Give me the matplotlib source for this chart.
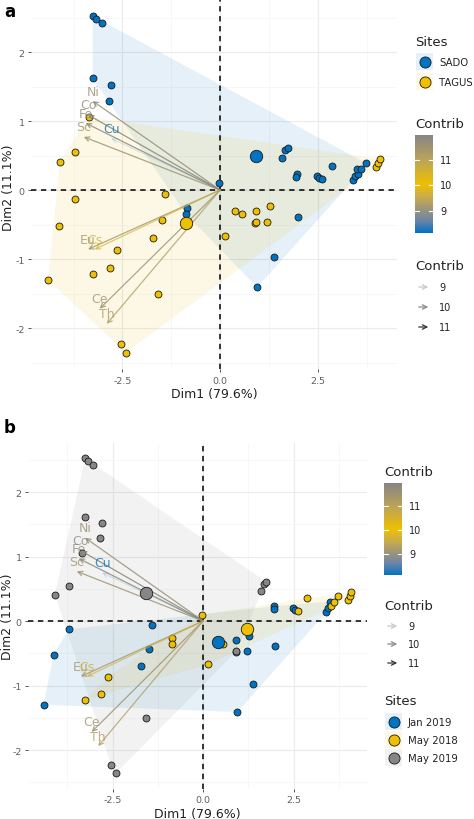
import matplotlib
matplotlib.use("Agg")
import matplotlib.pyplot as plt
import numpy as np
from matplotlib.colors import LinearSegmentedColormap, Normalize
from matplotlib.patches import Polygon, Rectangle, FancyArrowPatch
from matplotlib.lines import Line2D

W, H = 474, 820

# individuals (PCA scores)
dim1 = [-3.26, -3.18, -3.03, -3.26, -2.79, -2.85, -0.03, 1.67, 1.74, 1.59,
        1.97, 1.95, 2.49, 2.54, 2.62, 2.87, 3.41, 3.46, 3.54, 3.51,
        3.62, 3.74, -0.85, -0.87, 2.00, 1.38, 0.95,
        -3.36, -3.72, -4.10, -1.41, -3.72, -4.13, -1.49, -1.72, -2.64, -2.82,
        -3.26, -4.41, -1.59, -2.54, -2.41, 0.38, 0.56, 0.92, 1.28, 0.90,
        0.92, 1.21, 0.13, 4.00, 4.05, 4.10]
dim2 = [2.52, 2.48, 2.42, 1.62, 1.52, 1.29, 0.10, 0.58, 0.61, 0.46,
        0.23, 0.19, 0.20, 0.17, 0.16, 0.35, 0.14, 0.20, 0.23, 0.30,
        0.30, 0.39, -0.26, -0.35, -0.39, -0.97, -1.41,
        1.06, 0.55, 0.41, -0.06, -0.13, -0.52, -0.43, -0.70, -0.87, -1.13,
        -1.22, -1.30, -1.51, -2.23, -2.36, -0.30, -0.35, -0.30, -0.23, -0.48,
        -0.46, -0.46, -0.67, 0.33, 0.39, 0.45]
site = ["SADO"] * 27 + ["TAGUS"] * 26
campaign = ["May 2019"] * 6 + ["May 2018"] + ["May 2019"] * 3 + \
    ["Jan 2019"] * 4 + ["May 2018"] * 2 + ["Jan 2019"] * 2 + ["May 2018"] + \
    ["Jan 2019"] + ["May 2018"] * 4 + ["Jan 2019"] * 3 + \
    ["May 2019"] * 3 + ["Jan 2019"] * 5 + ["May 2018"] * 3 + ["Jan 2019"] + \
    ["May 2019"] * 3 + ["Jan 2019", "May 2018", "Jan 2019", "Jan 2019",
                        "May 2019", "May 2019", "Jan 2019", "May 2018"] + \
    ["May 2018"] * 3

# group means
site_levels = ["SADO", "TAGUS"]
site_mean1 = [0.92, -0.87]
site_mean2 = [0.49, -0.48]
camp_levels = ["Jan 2019", "May 2018", "May 2019"]
camp_mean1 = [0.41, 1.21, -1.57]
camp_mean2 = [-0.32, -0.12, 0.43]

# variables
var_names = ["Ni", "Co", "Fe", "Sc", "Cu", "Eu", "Cs", "Ce", "Th"]
var_dim1 = [-3.26, -3.38, -3.44, -3.49, -2.79, -3.38, -3.21, -3.08, -2.90]
var_dim2 = [1.29, 1.09, 0.97, 0.77, 0.75, -0.86, -0.86, -1.72, -1.94]
var_contrib = [11.6, 11.8, 11.7, 11.5, 8.2, 11.4, 10.6, 11.5, 11.2]
contrib_ticks = [9, 10, 11]

jco = ["#0073C2", "#EFC000", "#868686"]
cmap = LinearSegmentedColormap.from_list("contrib", [
    (0.0, "#0073C2"), (0.125, "#6C85A8"), (0.25, "#A09678"),
    (0.375, "#CCAD4B"), (0.5, "#EFC000"), (0.75, "#BBA35A"), (1.0, "#868686")])
norm = Normalize(8.15, 11.95)


def fx(x):
    return x / W


def fy(y):
    return 1 - y / H


def hull(pts):
    pts = sorted(set(pts))
    def cross(o, a, b):
        return (a[0] - o[0]) * (b[1] - o[1]) - (a[1] - o[1]) * (b[0] - o[0])
    lower, upper = [], []
    for p in pts:
        while len(lower) >= 2 and cross(lower[-2], lower[-1], p) <= 0:
            lower.pop()
        lower.append(p)
    for p in reversed(pts):
        while len(upper) >= 2 and cross(upper[-2], upper[-1], p) <= 0:
            upper.pop()
        upper.append(p)
    return lower[:-1] + upper[:-1]


def draw_panel(ax, groups, levels, means1, means2):
    ax.set_xlim(-4.84, 4.53)
    ax.set_ylim(-2.60, 2.76)
    for s in ax.spines.values():
        s.set_visible(False)
    ax.set_xticks([-2.5, 0, 2.5], ["-2.5", "0.0", "2.5"])
    ax.set_yticks([-2, -1, 0, 1, 2], ["-2", "-1", "0", "1", "2"])
    ax.set_xticks([-3.75, -1.25, 1.25, 3.75], minor=True)
    ax.set_yticks([-2.5, -1.5, -0.5, 0.5, 1.5, 2.5], minor=True)
    ax.grid(True, which="major", color="#EBEBEB", lw=0.8)
    ax.grid(True, which="minor", color="#F4F4F4", lw=0.5)
    ax.tick_params(which="major", length=2.5, width=0.7, color="#555555",
                   labelsize=6.8, labelcolor="#606060", pad=2)
    ax.tick_params(which="minor", length=0)
    ax.set_axisbelow(True)
    ax.set_xlabel("Dim1 (79.6%)", fontsize=9, color="#222222", labelpad=2)

    for lev, col in zip(levels, jco):
        pts = [(a, b) for a, b, g in zip(dim1, dim2, groups) if g == lev]
        ax.add_patch(Polygon(hull(pts), closed=True, facecolor=col,
                             alpha=0.1, edgecolor="none", zorder=1))
    ax.axhline(0, color="black", lw=1.1, ls=(0, (3.5, 3)), zorder=2)
    ax.axvline(0, color="black", lw=1.1, ls=(0, (3.5, 3)), zorder=2)
    for lev, col in zip(levels, jco):
        xs = [a for a, g in zip(dim1, groups) if g == lev]
        ys = [b for b, g in zip(dim2, groups) if g == lev]
        ax.scatter(xs, ys, s=25, color=col, edgecolor="#1a1a1a", lw=0.6,
                   zorder=3)
    for name, vx, vy, c in zip(var_names, var_dim1, var_dim2, var_contrib):
        col = cmap(norm(c))
        a = 0.15 + 0.75 * (c - 8.2) / (11.8 - 8.2)
        ax.annotate("", xy=(vx, vy), xytext=(0, 0),
                    arrowprops=dict(arrowstyle="->", color=col, lw=0.9,
                                    alpha=a, shrinkA=0, shrinkB=0,
                                    mutation_scale=8), zorder=4)
        ax.annotate(name, xy=(vx, vy), xytext=(0, 2.5),
                    textcoords="offset points", ha="center", va="bottom",
                    fontsize=9, color=col, alpha=0.8, zorder=5)
    for m1, m2, col in zip(means1, means2, jco):
        ax.scatter([m1], [m2], s=80, color=col, edgecolor="#1a1a1a", lw=0.6,
                   zorder=6)


def colorbar(fig, left, top, right, bottom, title_y):
    cax = fig.add_axes([fx(left), fy(bottom), fx(right - left),
                        (bottom - top) / H])
    grad = np.linspace(norm.vmin, norm.vmax, 256).reshape(-1, 1)
    cax.imshow(grad, aspect="auto", cmap=cmap, norm=norm, origin="lower",
               extent=[0, 1, norm.vmin, norm.vmax])
    for t in contrib_ticks:
        cax.plot([0, 0.2], [t, t], color="white", lw=0.8)
        cax.plot([0.8, 1], [t, t], color="white", lw=0.8)
        fig.text(fx(right + 7), fy(bottom - (t - norm.vmin) / (norm.vmax - norm.vmin) * (bottom - top)),
                 str(t), fontsize=7, va="center", color="#222222")
    cax.set_xlim(0, 1)
    cax.set_ylim(norm.vmin, norm.vmax)
    cax.axis("off")
    fig.text(fx(left), fy(title_y), "Contrib", fontsize=9.5, va="center",
             color="#222222")


def arrow_legend(fig, x, title_y, ys):
    fig.text(fx(x), fy(title_y), "Contrib", fontsize=9.5, va="center",
             color="#222222")
    for t, yy, col in zip(contrib_ticks, ys, ["#C8C8C8", "#8A8A8A", "#333333"]):
        fig.add_artist(FancyArrowPatch((fx(x + 1), fy(yy)), (fx(x + 16), fy(yy)),
                                       transform=fig.transFigure,
                                       arrowstyle="->", mutation_scale=8,
                                       color=col, lw=0.9))
        fig.text(fx(x + 24), fy(yy), str(t), fontsize=7, va="center",
                 color="#222222")


def site_legend(fig, x, title_y, ys, labels):
    fig.text(fx(x), fy(title_y), "Sites", fontsize=9.5, va="center",
             color="#222222")
    for lab, yy, col in zip(labels, ys, jco):
        fig.add_artist(Rectangle((fx(x + 1), fy(yy + 8)), 17 / W, 17 / H,
                                 transform=fig.transFigure, facecolor=col,
                                 alpha=0.1, edgecolor="none"))
        fig.add_artist(Line2D([fx(x + 9.5)], [fy(yy)], marker="o",
                              markersize=8, color=col, markeredgecolor="#1a1a1a",
                              markeredgewidth=0.6, transform=fig.transFigure))
        fig.text(fx(x + 24), fy(yy), lab, fontsize=7.3, va="center",
                 color="#222222")


fig = plt.figure(figsize=(W / 100, H / 100), dpi=100)

# panel a
ax_a = fig.add_axes([fx(31), fy(370.4), fx(397 - 31), (370.4 - 0.6) / H])
draw_panel(ax_a, site, site_levels, site_mean1, site_mean2)
fig.text(fx(9), fy(188), "Dim2 (11.1%)", rotation=90, fontsize=9,
         ha="center", va="center", color="#222222")
fig.text(fx(4), fy(12), "a", fontsize=12, fontweight="bold", va="center")
site_legend(fig, 415, 42, [63, 83], site_levels)
colorbar(fig, 415, 136, 433, 234, 124)
arrow_legend(fig, 415, 267, [288, 308, 328])

# panel b
ax_b = fig.add_axes([fx(28), fy(789.7), fx(367 - 28), (789.7 - 444) / H])
draw_panel(ax_b, campaign, camp_levels, camp_mean1, camp_mean2)
fig.text(fx(8), fy(617), "Dim2 (11.1%)", rotation=90, fontsize=9,
         ha="center", va="center", color="#222222")
fig.text(fx(4), fy(428), "b", fontsize=12, fontweight="bold", va="center")
colorbar(fig, 384, 484, 402, 576, 473)
arrow_legend(fig, 384, 607, [627, 645, 664])
site_legend(fig, 384, 702, [723, 741, 759], camp_levels)

fig.savefig("out.png", dpi=100)
